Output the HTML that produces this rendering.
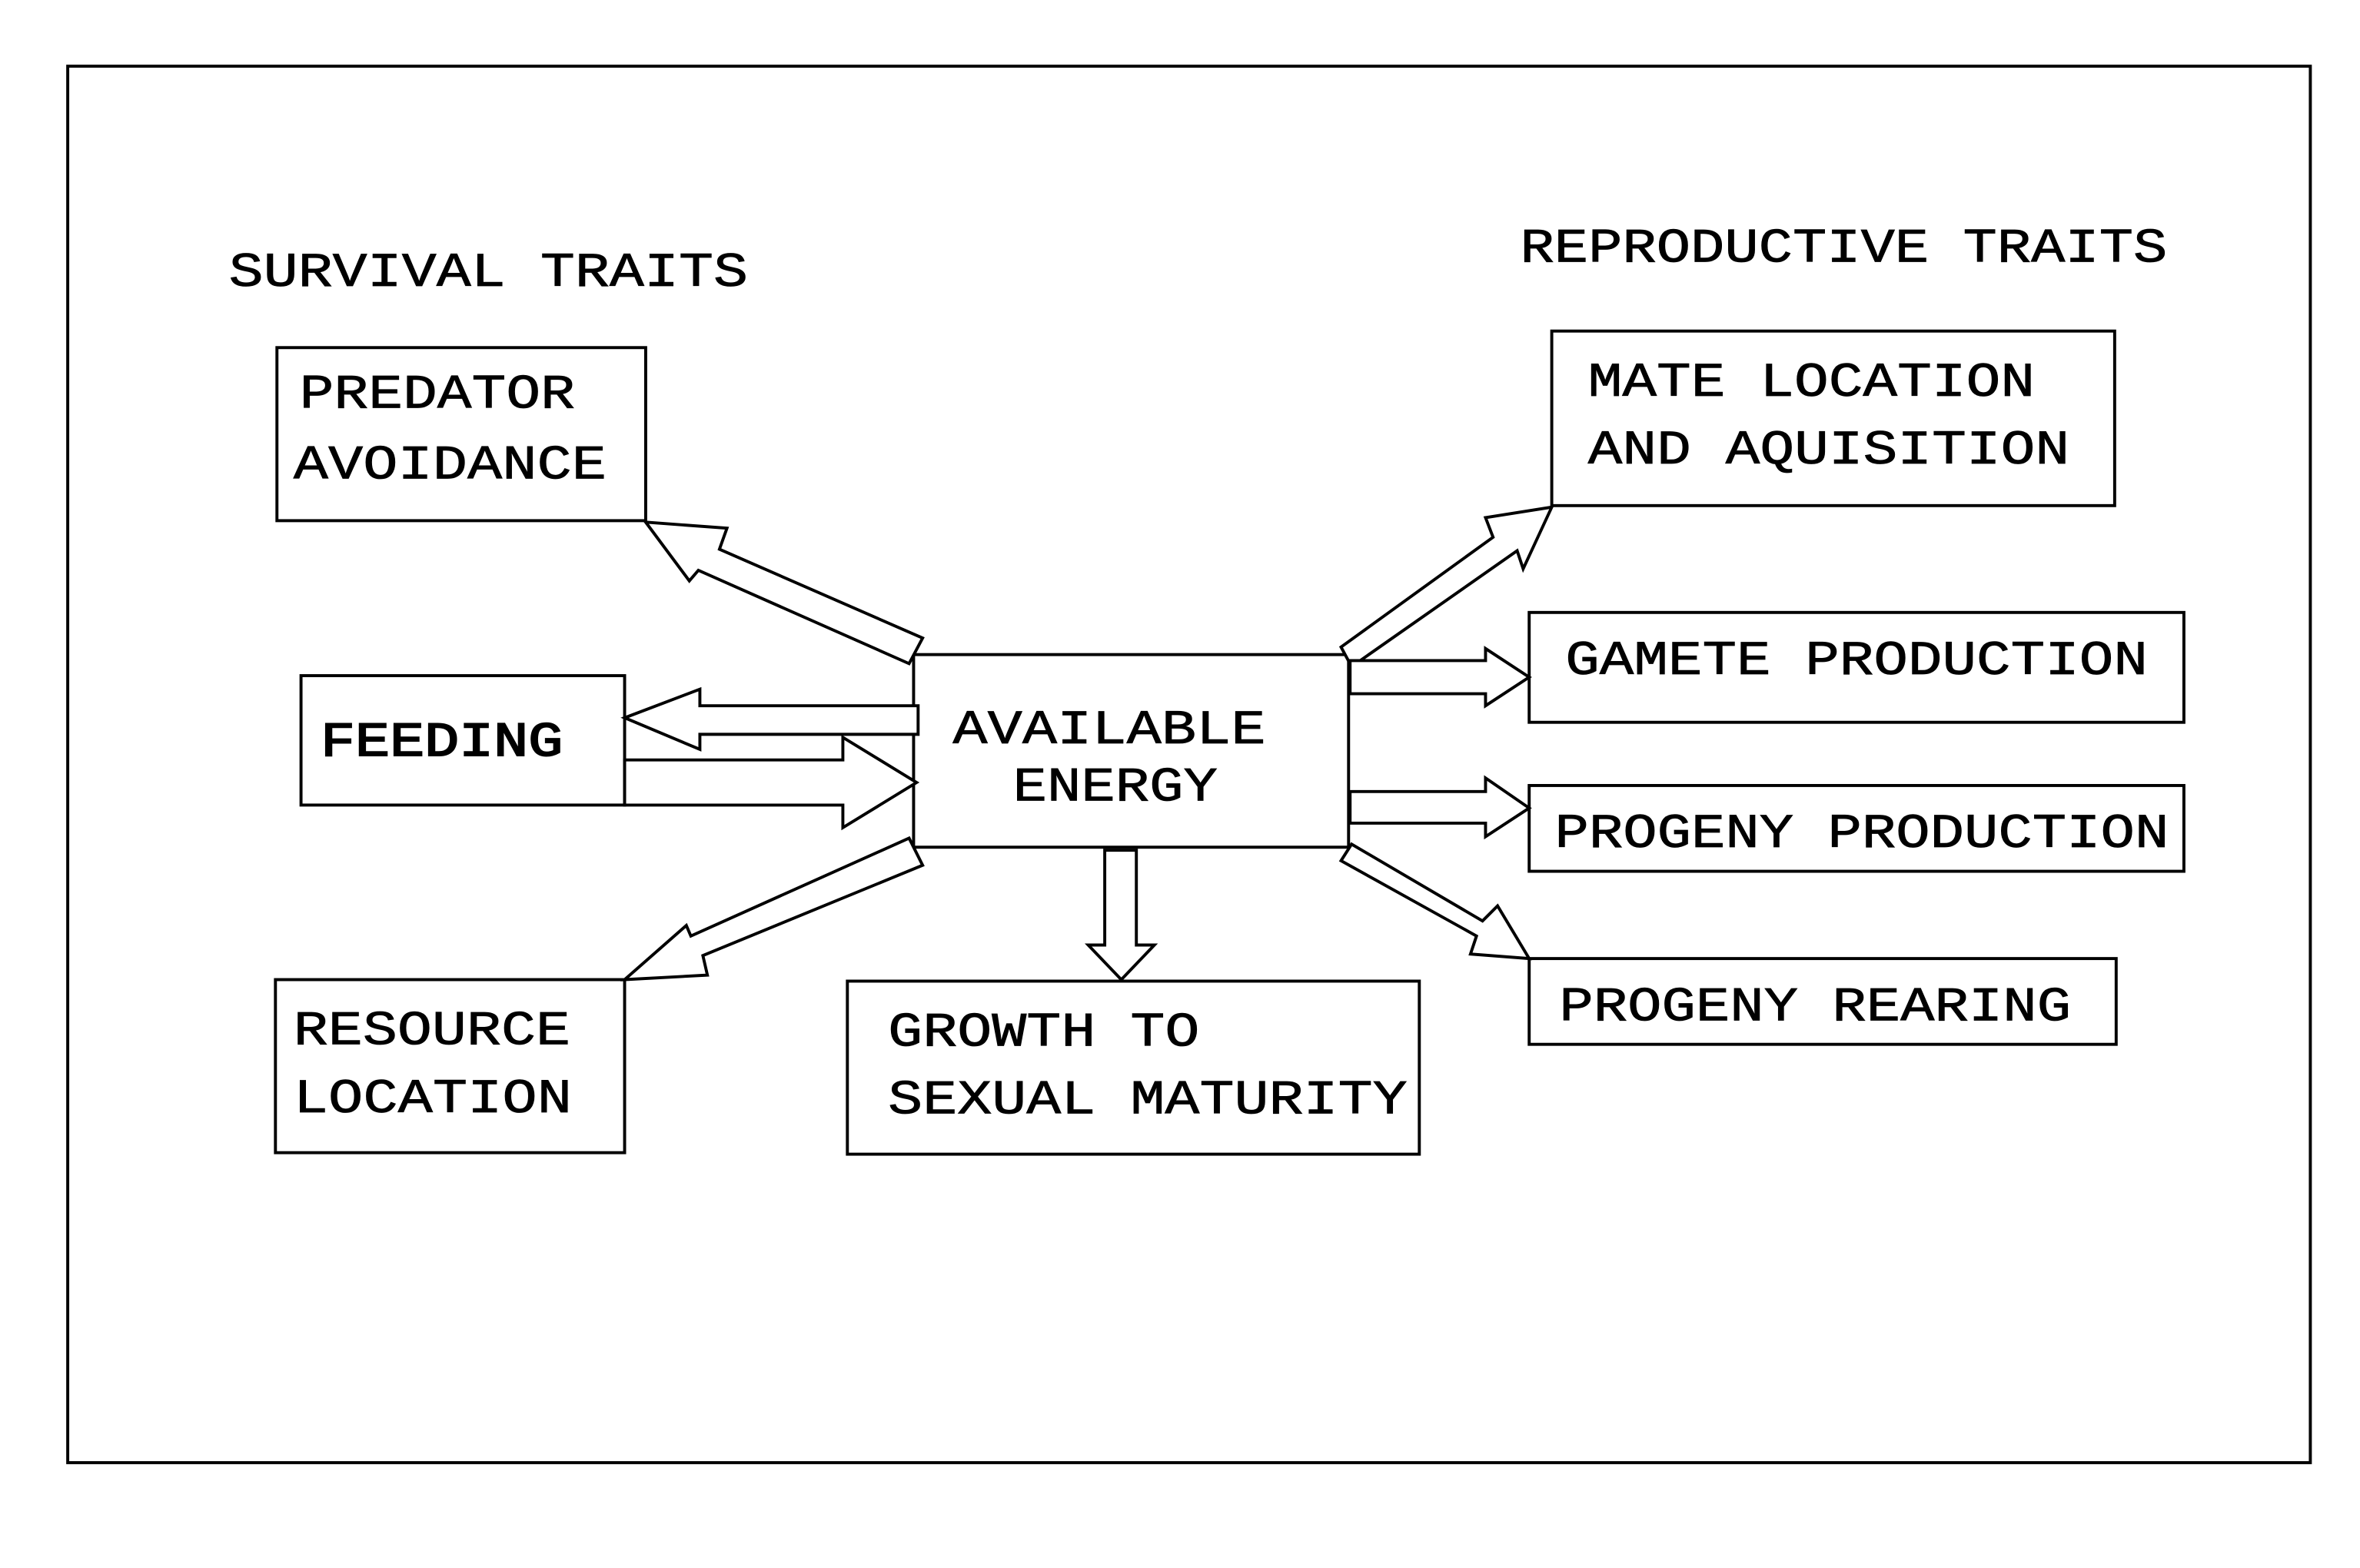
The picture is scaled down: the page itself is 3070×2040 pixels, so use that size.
<!DOCTYPE html>
<html><head><meta charset="utf-8"><style>html,body{margin:0;padding:0;background:#fff}svg{display:block}</style></head>
<body>
<svg width="3070" height="2040" viewBox="0 0 1568 1042" preserveAspectRatio="none" xmlns="http://www.w3.org/2000/svg">
<rect x="0" y="0" width="1568" height="1042" fill="#fff"/>
<g fill="none" stroke="#000" stroke-width="2">
<rect x="45" y="44" width="1490" height="928"/>
<rect x="184" y="231" width="245" height="115"/>
<rect x="200" y="449" width="215" height="86"/>
<rect x="183" y="651" width="232" height="115"/>
<rect x="563" y="652" width="380" height="115"/>
<rect x="607" y="435" width="289" height="128"/>
<rect x="1031" y="220" width="374" height="116"/>
<rect x="1016" y="407" width="435" height="73"/>
<rect x="1016" y="522" width="435" height="57"/>
<rect x="1016" y="637" width="390" height="57"/>
</g>
<g fill="#fff" stroke="#000" stroke-width="2" stroke-linejoin="miter">
<polygon points="429,347 483,351 478,365 613,424 604,441 464,379 458,386"/>
<polygon points="415,477 465,458 465,469 610,469 610,488 465,488 465,498"/>
<polygon points="415,505 560,505 560,490 609,520 560,550 560,535 415,535"/>
<polygon points="415,651 470,648 467,635 613,575 604,557 459,622 456,615"/>
<polygon points="734,565 755,565 755,628 767,628 745,651 723,628 734,628"/>
<polygon points="891,430 992,357 987,344 1031,337 1012,378 1008,366 898,443"/>
<polygon points="897,439 987,439 987,431 1016,450 987,469 987,461 897,461"/>
<polygon points="897,526 987,526 987,517 1016,537 987,556 987,547 897,547"/>
<polygon points="891,572 898,561 985,612 995,602 1016,637 977,634 981,622"/>
</g>
<g font-family="'Liberation Mono', monospace" font-size="32" fill="#000" stroke="#000" stroke-width="0.4">
<text x="152" y="190" textLength="345" lengthAdjust="spacingAndGlyphs">SURVIVAL TRAITS</text>
<text x="1010" y="174" textLength="430" lengthAdjust="spacingAndGlyphs">REPRODUCTIVE TRAITS</text>
<text x="199" y="271" textLength="183" lengthAdjust="spacingAndGlyphs">PREDATOR</text>
<text x="195" y="318" textLength="208" lengthAdjust="spacingAndGlyphs">AVOIDANCE</text>
<text x="213" y="502" textLength="161" lengthAdjust="spacingAndGlyphs" stroke-width="1">FEEDING</text>
<text x="195" y="694" textLength="184" lengthAdjust="spacingAndGlyphs">RESOURCE</text>
<text x="195" y="739" textLength="185" lengthAdjust="spacingAndGlyphs">LOCATION</text>
<text x="590" y="695" textLength="207" lengthAdjust="spacingAndGlyphs">GROWTH TO</text>
<text x="590" y="740" textLength="345" lengthAdjust="spacingAndGlyphs">SEXUAL MATURITY</text>
<text x="633" y="494" textLength="208" lengthAdjust="spacingAndGlyphs">AVAILABLE</text>
<text x="673" y="532" textLength="136" lengthAdjust="spacingAndGlyphs">ENERGY</text>
<text x="1055" y="263" textLength="297" lengthAdjust="spacingAndGlyphs">MATE LOCATION</text>
<text x="1055" y="308" textLength="320" lengthAdjust="spacingAndGlyphs">AND AQUISITION</text>
<text x="1040" y="448" textLength="387" lengthAdjust="spacingAndGlyphs">GAMETE PRODUCTION</text>
<text x="1033" y="563" textLength="408" lengthAdjust="spacingAndGlyphs">PROGENY PRODUCTION</text>
<text x="1036" y="678" textLength="340" lengthAdjust="spacingAndGlyphs">PROGENY REARING</text>
</g>
</svg>
</body></html>
